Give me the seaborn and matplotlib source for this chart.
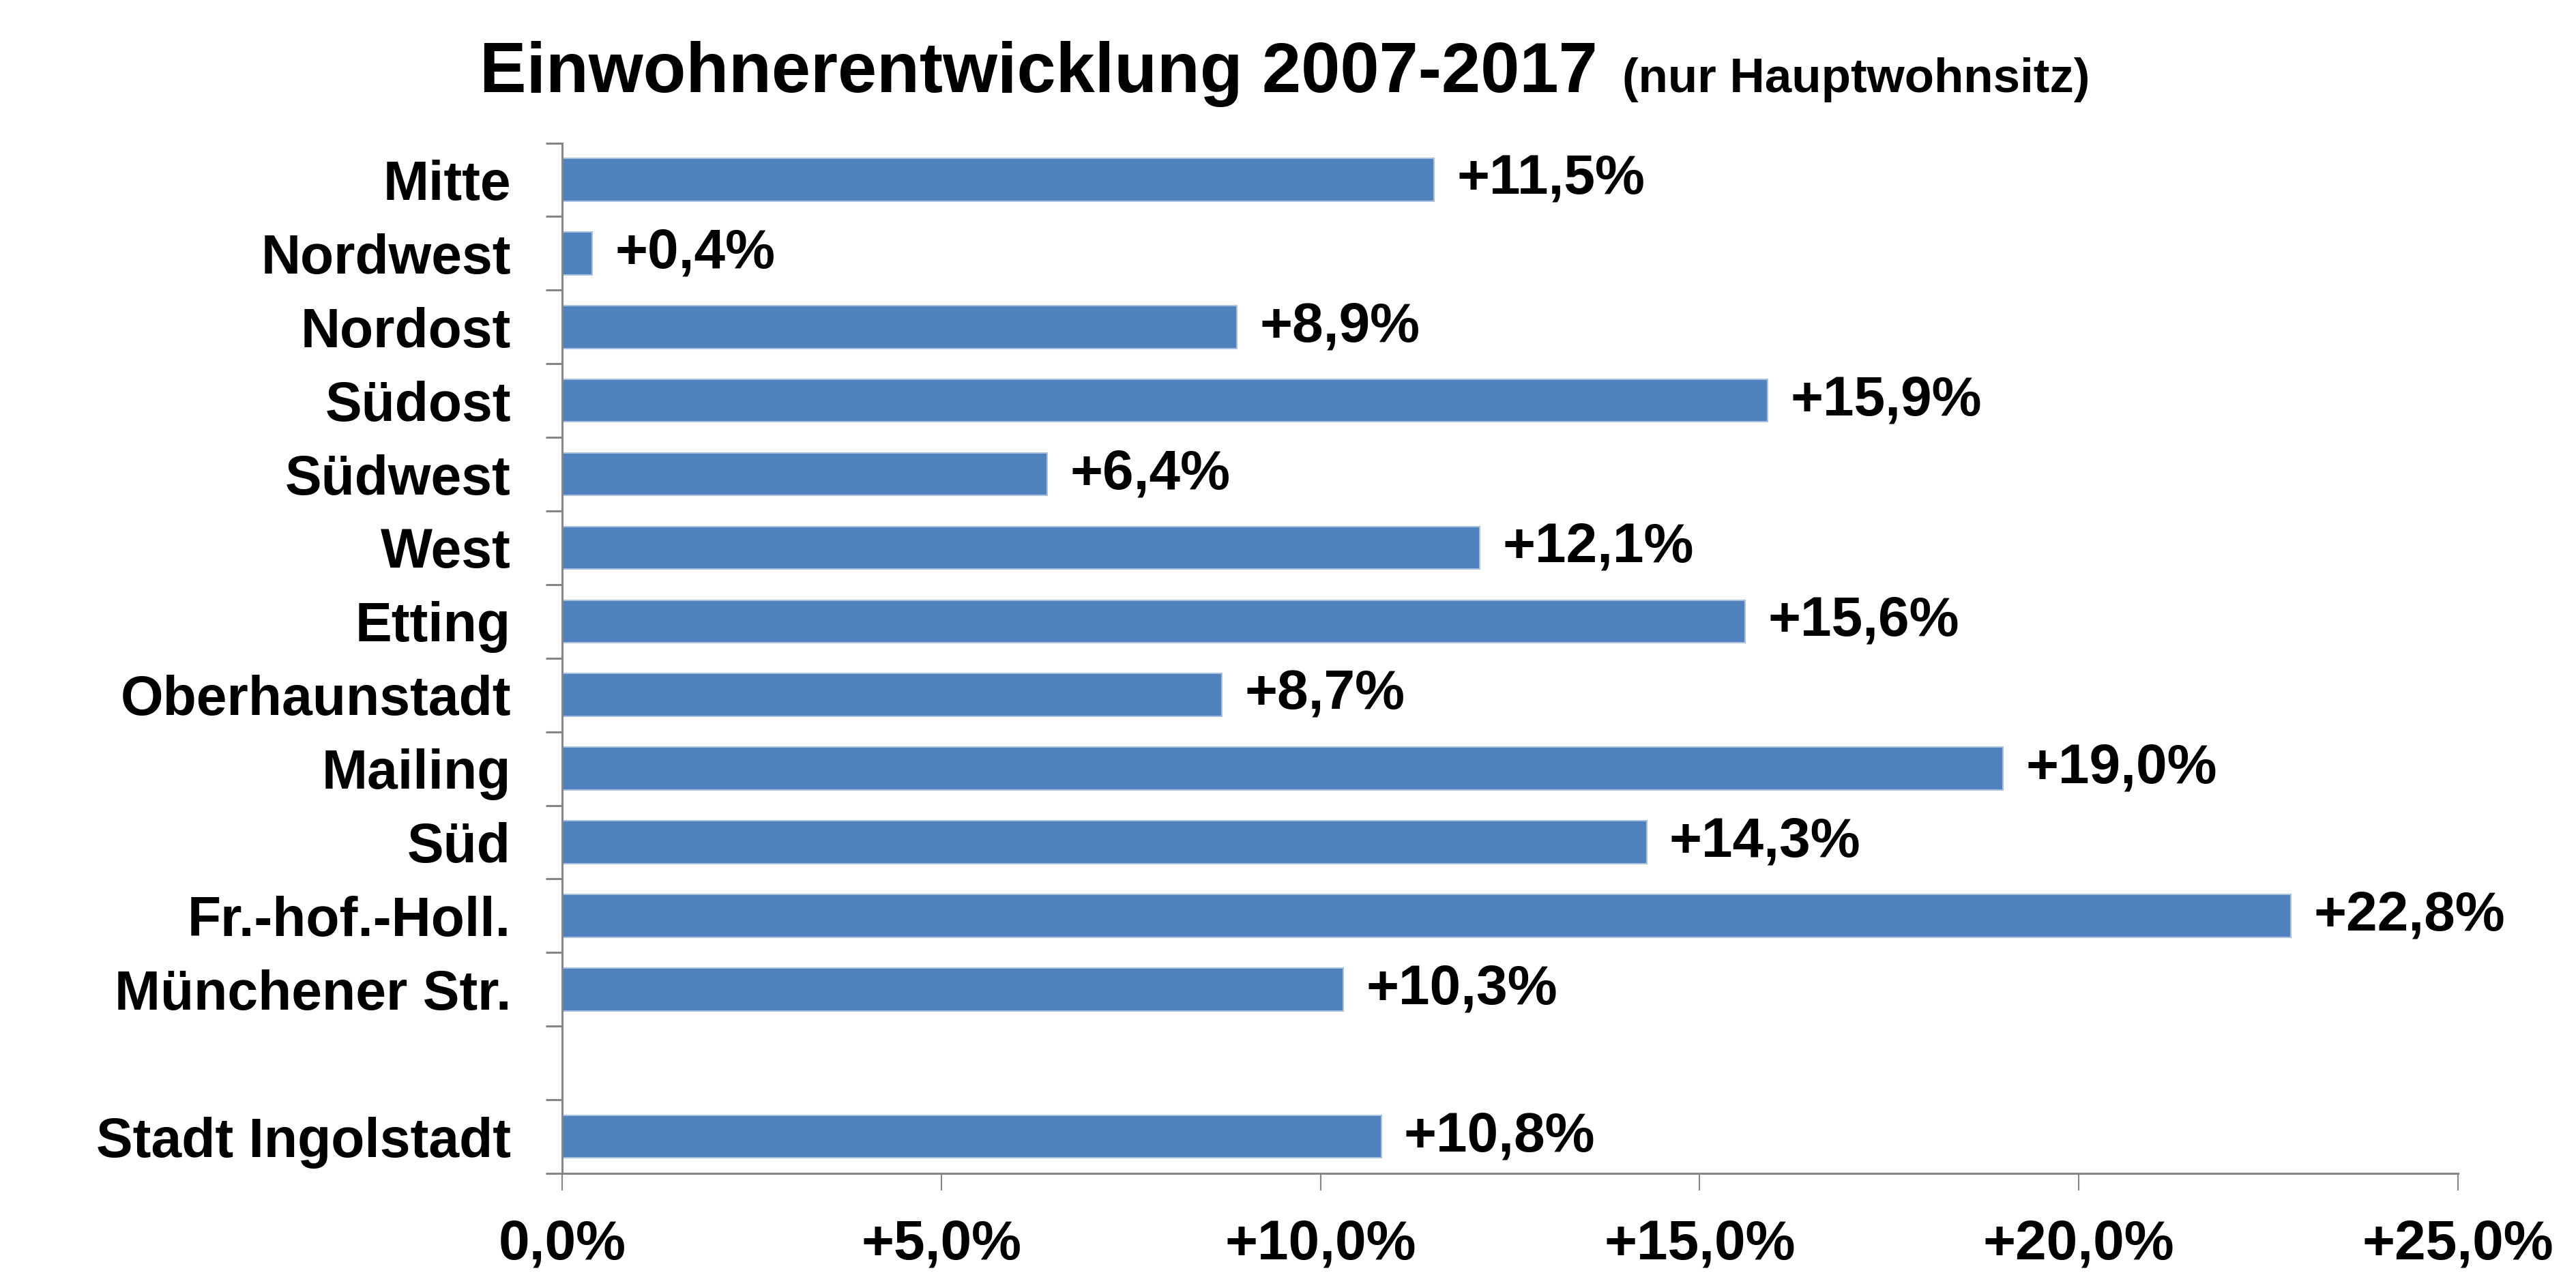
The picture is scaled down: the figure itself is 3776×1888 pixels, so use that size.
import matplotlib
matplotlib.use("Agg")
import matplotlib.pyplot as plt
import seaborn as sns
import pandas as pd
import numpy as np

# Daten: Einwohnerentwicklung 2007-2017 je Stadtbezirk (in %)
bezirke = ["Mitte", "Nordwest", "Nordost", "Südost", "Südwest", "West", "Etting",
           "Oberhaunstadt", "Mailing", "Süd", "Fr.-hof.-Holl.", "Münchener Str.",
           "Stadt Ingolstadt"]
werte = [11.5, 0.4, 8.9, 15.9, 6.4, 12.1, 15.6, 8.7, 19.0, 14.3, 22.8, 10.3, 10.8]
# leere Zeile zwischen den Bezirken und der Gesamtstadt
reihenfolge = bezirke[:-1] + [" "] + bezirke[-1:]
x_ticks = [0, 5, 10, 15, 20, 25]

sns.set_theme(style="white")
plt.rcParams["font.family"] = ["Liberation Sans", "DejaVu Sans"]
plt.rcParams["font.weight"] = "bold"
plt.rcParams["text.color"] = "black"

df = pd.DataFrame({"bezirk": bezirke, "wert": werte})

fig = plt.figure(figsize=(37.76, 18.88), dpi=100)
ax = fig.add_axes([0.2182, 0.089, 0.7360, 0.800])

sns.barplot(data=df, x="wert", y="bezirk", order=reihenfolge, color="#4F81BD",
            saturation=1, width=0.58, edgecolor="#A9C1DF", linewidth=1.5, ax=ax)

# Beschriftung der Balken
bars = [p for p in ax.patches if np.isfinite(p.get_width()) and p.get_width() > 0]
for p in bars:
    v = p.get_width()
    ax.annotate("+" + f"{v:.1f}".replace(".", ",") + "%",
                (v, p.get_y() + p.get_height() / 2), xytext=(24, 0),
                textcoords="offset points", va="center", ha="left",
                fontsize=59, fontweight="bold", color="black")

ax.set_xlim(0, 25)
ax.set_ylim(len(reihenfolge) - 0.5, -0.5)
ax.set_xticks(x_ticks)
ax.set_xticklabels([("+" if t > 0 else "") + f"{t:.1f}".replace(".", ",") + "%" for t in x_ticks])
ax.set_yticks(range(len(reihenfolge)))
ax.set_yticklabels(reihenfolge)
ax.set_yticks(np.arange(-0.5, len(reihenfolge)), minor=True)
ax.set_xlabel("")
ax.set_ylabel("")

for s in ["top", "right"]:
    ax.spines[s].set_visible(False)
for s in ["left", "bottom"]:
    ax.spines[s].set_color("#868686")
    ax.spines[s].set_linewidth(2.2)

ax.tick_params(axis="y", which="major", length=0, pad=54, labelsize=58, labelcolor="black")
ax.tick_params(axis="y", which="minor", left=True, length=17, width=2.2, color="#868686")
ax.tick_params(axis="x", which="major", bottom=True, length=18, width=1.5,
               color="#868686", pad=30, labelsize=59, labelcolor="black")
for lab in ax.get_xticklabels() + ax.get_yticklabels():
    lab.set_fontweight("bold")

# Titel in zwei Teilen
t1 = fig.text(703 / 3776, 1 - 135 / 1888, "Einwohnerentwicklung 2007-2017",
              fontsize=74, fontweight="bold", ha="left", va="baseline", color="black")
fig.canvas.draw()
bb = t1.get_window_extent()
fig.text((bb.x1 + 36) / 3776, 1 - 135 / 1888, "(nur Hauptwohnsitz)",
         fontsize=51, fontweight="bold", ha="left", va="baseline", color="black")

fig.savefig("out.png", dpi=100, facecolor="white")
